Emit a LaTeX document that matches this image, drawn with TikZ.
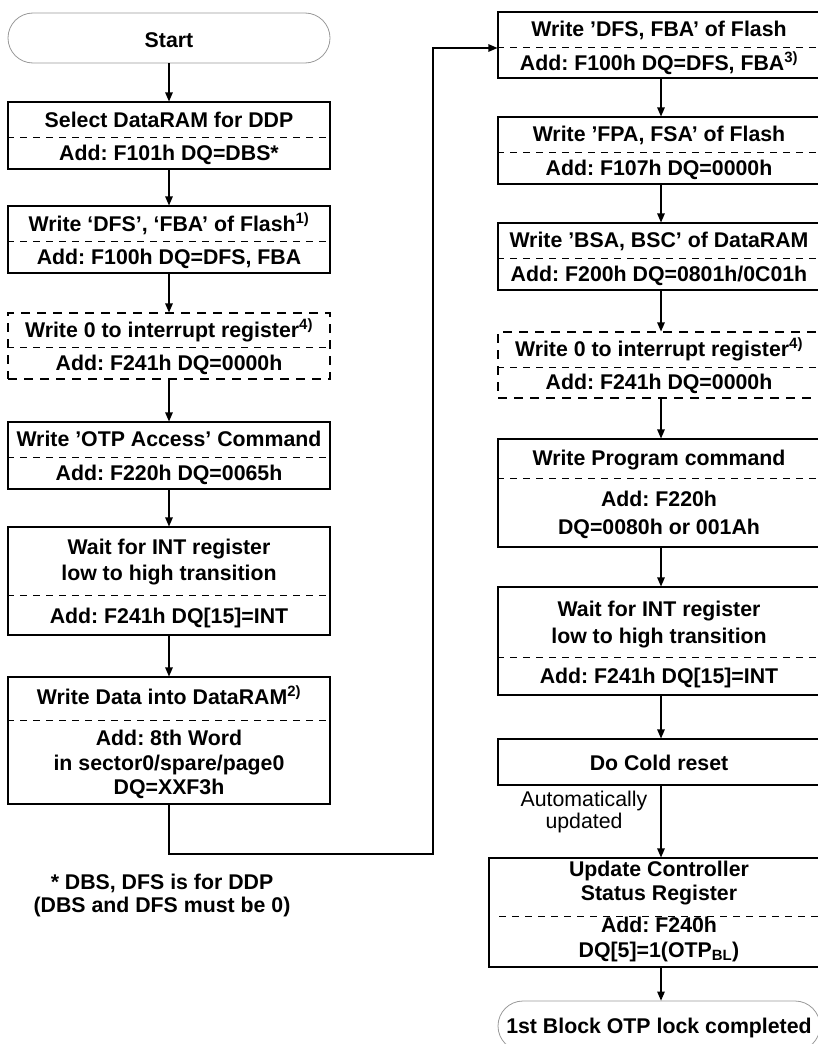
\documentclass[tikz,border=0pt]{standalone}
\usepackage{fontspec}
\setmainfont{Liberation Sans}
\usetikzlibrary{arrows.meta}
\frenchspacing
\begin{document}
\begin{tikzpicture}[x=1pt,y=-1pt,
  box/.style={draw, line width=1.1pt, rectangle, inner sep=0pt, minimum width=322pt},
  rbox/.style={box, minimum width=326pt},
  dbox/.style={box, dash pattern=on 9pt off 7pt},
  term/.style={draw=black!40, line width=0.8pt, rectangle, rounded corners=25pt, inner sep=0pt, minimum width=322pt, minimum height=50pt},
  txt/.style={inner sep=0pt, anchor=base, font=\fontsize{21.3}{25}\selectfont\bfseries},
  ntxt/.style={inner sep=0pt, align=center, font=\fontsize{21.3}{22}\selectfont},
  div/.style={line width=0.8pt, dash pattern=on 7pt off 6pt},
  arr/.style={line width=1.1pt, -{Triangle[length=9pt,width=7.5pt]}},
  ln/.style={line width=1.1pt}
]
\useasboundingbox (0,0) rectangle (818,1044);

% ---------- left column ----------
\node[term] (start) at (169,38) {};
\node[txt] (tstart) at (169,47.5) {Start};

\node[box, minimum height=67pt] (b1) at (169,135.5) {};
\node[txt] (t1a) at (169,127.5) {Select DataRAM for DDP};
\node[txt] (t1b) at (169,160.5) {Add: F101h DQ=DBS*};
\draw[div] (b1.west |- 0,137) -- (b1.east |- 0,137);

\node[box, minimum height=67pt] (b2) at (169,239.5) {};
\node[txt] (t2a) at (169,231.5) {Write ‘DFS’, ‘FBA’ of Flash\textsuperscript{1)}};
\node[txt] (t2b) at (169,264.5) {Add: F100h DQ=DFS, FBA};
\draw[div] (b2.west |- 0,241) -- (b2.east |- 0,241);

\node[dbox, minimum height=66pt] (b3) at (169,346) {};
\node[txt] (t3a) at (169,337.5) {Write 0 to interrupt register\textsuperscript{4)}};
\node[txt] (t3b) at (169,370.5) {Add: F241h DQ=0000h};
\draw[div] (b3.west |- 0,347) -- (b3.east |- 0,347);

\node[box, minimum height=67pt] (b4) at (169,455.5) {};
\node[txt] (t4a) at (169,446.5) {Write ’OTP Access’ Command};
\node[txt] (t4b) at (169,480.5) {Add: F220h DQ=0065h};
\draw[div] (b4.west |- 0,457) -- (b4.east |- 0,457);

\node[box, minimum height=108pt] (b5) at (169,581) {};
\node[txt] (t5a) at (169,554.5) {Wait for INT register};
\node[txt] (t5b) at (169,580.5) {low to high transition};
\node[txt] (t5c) at (169,623.5) {Add: F241h DQ[15]=INT};
\draw[div] (b5.west |- 0,595) -- (b5.east |- 0,595);

\node[box, minimum height=127pt] (b6) at (169,740.5) {};
\node[txt] (t6a) at (169,704.5) {Write Data into DataRAM\textsuperscript{2)}};
\node[txt] (t6b) at (169,745.5) {Add: 8th Word};
\node[txt] (t6c) at (169,770.5) {in sector0/spare/page0};
\node[txt] (t6d) at (169,794.5) {DQ=XXF3h};
\draw[div] (b6.west |- 0,720) -- (b6.east |- 0,720);

\node[txt] (f1) at (162,889.5) {* DBS, DFS is for DDP};
\node[txt] (f2) at (162,912.5) {(DBS and DFS must be 0)};

\draw[arr] (start.south) -- (b1.north);
\draw[arr] (b1.south) -- (b2.north);
\draw[arr] (b2.south) -- (b3.north);
\draw[arr] (b3.south) -- (b4.north);
\draw[arr] (b4.south) -- (b5.north);
\draw[arr] (b5.south) -- (b6.north);

% ---------- right column ----------
\node[rbox, minimum height=66pt] (b7) at (661,45) {};
\node[txt] (t7a) at (659,36.5) {Write ’DFS, FBA’ of Flash};
\node[txt] (t7b) at (659,70.5) {Add: F100h DQ=DFS, FBA\textsuperscript{3)}};
\draw[div] (b7.west |- 0,47) -- (b7.east |- 0,47);

\node[rbox, minimum height=67pt] (b8) at (661,150.5) {};
\node[txt] (t8a) at (659,141.5) {Write ’FPA, FSA’ of Flash};
\node[txt] (t8b) at (659,175.5) {Add: F107h DQ=0000h};
\draw[div] (b8.west |- 0,152) -- (b8.east |- 0,152);

\node[rbox, minimum height=67pt] (b9) at (661,256.5) {};
\node[txt] (t9a) at (659,247.5) {Write ’BSA, BSC’ of DataRAM};
\node[txt] (t9b) at (659,281.5) {Add: F200h DQ=0801h/0C01h};
\draw[div] (b9.west |- 0,258) -- (b9.east |- 0,258);

\node[rbox, dash pattern=on 9pt off 7pt, minimum height=66pt] (b10) at (661,365) {};
\node[txt] (t10a) at (659,356.5) {Write 0 to interrupt register\textsuperscript{4)}};
\node[txt] (t10b) at (659,389.5) {Add: F241h DQ=0000h};
\draw[div] (b10.west |- 0,367) -- (b10.east |- 0,367);

\node[rbox, minimum height=108pt] (b11) at (661,493) {};
\node[txt] (t11a) at (659,465.5) {Write Program command};
\node[txt] (t11b) at (659,506.5) {Add: F220h};
\node[txt] (t11c) at (659,534.5) {DQ=0080h or 001Ah};
\draw[div] (b11.west |- 0,478) -- (b11.east |- 0,478);

\node[rbox, minimum height=108pt] (b12) at (661,641) {};
\node[txt] (t12a) at (659,616.5) {Wait for INT register};
\node[txt] (t12b) at (659,643.5) {low to high transition};
\node[txt] (t12c) at (659,683.5) {Add: F241h DQ[15]=INT};
\draw[div] (b12.west |- 0,657) -- (b12.east |- 0,657);

\node[rbox, minimum height=46pt] (b13) at (661,762) {};
\node[txt] (t13a) at (659,770.5) {Do Cold reset};

\node[ntxt] (auto) at (584,812) {Automatically\\updated};

\node[box, minimum width=344pt, minimum height=109pt] (b14) at (661,912.5) {};
\node[txt] (t14a) at (659,876.5) {Update Controller};
\node[txt] (t14b) at (659,900.5) {Status Register};
\node[txt] (t14c) at (659,932.5) {Add: F240h};
\node[txt] (t14d) at (659,957.5) {DQ[5]=1(OTP\textsubscript{BL})};
\draw[div] (499,916) -- (b14.east |- 0,916);

\node[term] (done) at (659,1026) {};
\node[txt] (tdone) at (659,1033.5) {1st Block OTP lock completed};

\draw[arr] (b7.south) -- (b8.north);
\draw[arr] (b8.south) -- (b9.north);
\draw[arr] (b9.south) -- (b10.north);
\draw[arr] (b10.south) -- (b11.north);
\draw[arr] (b11.south) -- (b12.north);
\draw[arr] (b12.south) -- (b13.north);
\draw[arr] (b13.south) -- (b14.north);
\draw[arr] (b14.south) -- (b14.south |- done.north);

% ---------- crossing connector ----------
\coordinate (c1) at (433,854);
\coordinate (c2) at (433,48);
\draw[arr] (b6.south) |- (c1) -- (c2) -- (b7.west |- c2);
\end{tikzpicture}
\end{document}
